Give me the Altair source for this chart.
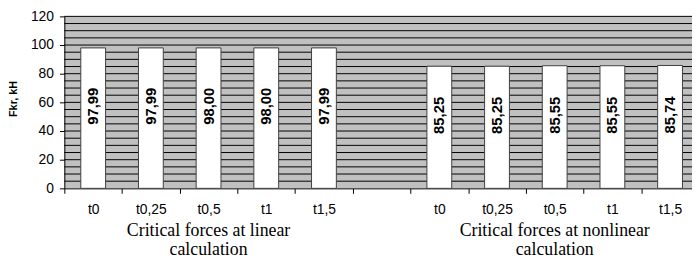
import altair as alt
import pandas as pd

times = ["t0", "t0,25", "t0,5", "t1", "t1,5"]
linear_values = [97.99, 97.99, 98.00, 98.00, 97.99]
nonlinear_values = [85.25, 85.25, 85.55, 85.55, 85.74]
linear_labels = ["97,99", "97,99", "98,00", "98,00", "97,99"]
nonlinear_labels = ["85,25", "85,25", "85,55", "85,55", "85,74"]
group_titles = ["Critical forces at linear\ncalculation", "Critical forces at nonlinear\ncalculation"]
grid_values = list(range(5, 121, 5))
y_ticks = [0, 20, 40, 60, 80, 100, 120]

keys_lin = ["L|" + t for t in times]
keys_non = ["N|" + t for t in times]
order = keys_lin + ["G|"] + keys_non

bars = pd.DataFrame({
    "key": keys_lin + keys_non,
    "value": linear_values + nonlinear_values,
    "label": linear_labels + nonlinear_labels,
})
grid = pd.DataFrame({"g": grid_values})
titles = pd.DataFrame({"key": ["L|t0,5", "N|t0,5"], "title": group_titles})

W, H = 635, 174
xscale = alt.Scale(domain=order, range=[0, 642], paddingInner=0, paddingOuter=0)
yscale = alt.Scale(domain=[0, 120], nice=False)

x_axis = alt.Axis(
    title=None, labelExpr="split(datum.value, '|')[1]", labelAngle=0,
    tickBand="extent", tickSize=5, tickColor="#000", domainColor="#000",
    labelFont="Arial", labelFontSize=14, labelColor="#000", labelPadding=9,
    grid=False)
y_axis = alt.Axis(
    values=y_ticks, title="Fkr, kH", titleFont="Arial", titleFontSize=11,
    titleFontWeight="bold", titleColor="#000", titleX=-51, titleY=H / 2 - 4,
    titleAngle=-90, titleAlign="center", titleBaseline="middle",
    labelFont="Arial", labelFontSize=14, labelColor="#000", labelPadding=6,
    tickSize=5, tickColor="#000", domainColor="#000", grid=False)

gridrules = alt.Chart(grid).mark_rule(color="#000", strokeWidth=1).encode(
    y=alt.Y("g:Q", scale=yscale, axis=y_axis),
)

barlayer = alt.Chart(bars).mark_bar(
    fill="white", stroke="#404040", strokeWidth=1,
    width=alt.RelativeBandSize(0.43)
).encode(
    x=alt.X("key:N", scale=xscale, sort=order, axis=x_axis),
    y=alt.Y("value:Q", scale=yscale, axis=y_axis),
)

textlayer = alt.Chart(bars).transform_calculate(
    mid="datum.value / 2"
).mark_text(
    angle=270, font="Arial", fontSize=15, fontWeight="bold", color="#000",
    align="center", baseline="middle", dx=12
).encode(
    x=alt.X("key:N", scale=xscale, sort=order, axis=x_axis),
    y=alt.Y("mid:Q", scale=yscale, axis=y_axis),
    text="label:N",
)

titlelayer = alt.Chart(titles).mark_text(
    font="Liberation Serif", fontSize=18, lineHeight=19, color="#000",
    align="center", baseline="top", lineBreak="\n"
).encode(
    x=alt.X("key:N", scale=xscale, sort=order, axis=x_axis),
    y=alt.value(H + 34),
    text="title:N",
)

chart = alt.layer(gridrules, barlayer, textlayer, titlelayer).properties(
    width=W, height=H,
    autosize=alt.AutoSizeParams(type="none"),
    padding={"left": 57, "top": 7, "right": 0, "bottom": 70},
).configure_view(
    fill="#c0c0c0", stroke=None
)

chart.save("out.html", embed_options={"renderer": "svg", "actions": False})
